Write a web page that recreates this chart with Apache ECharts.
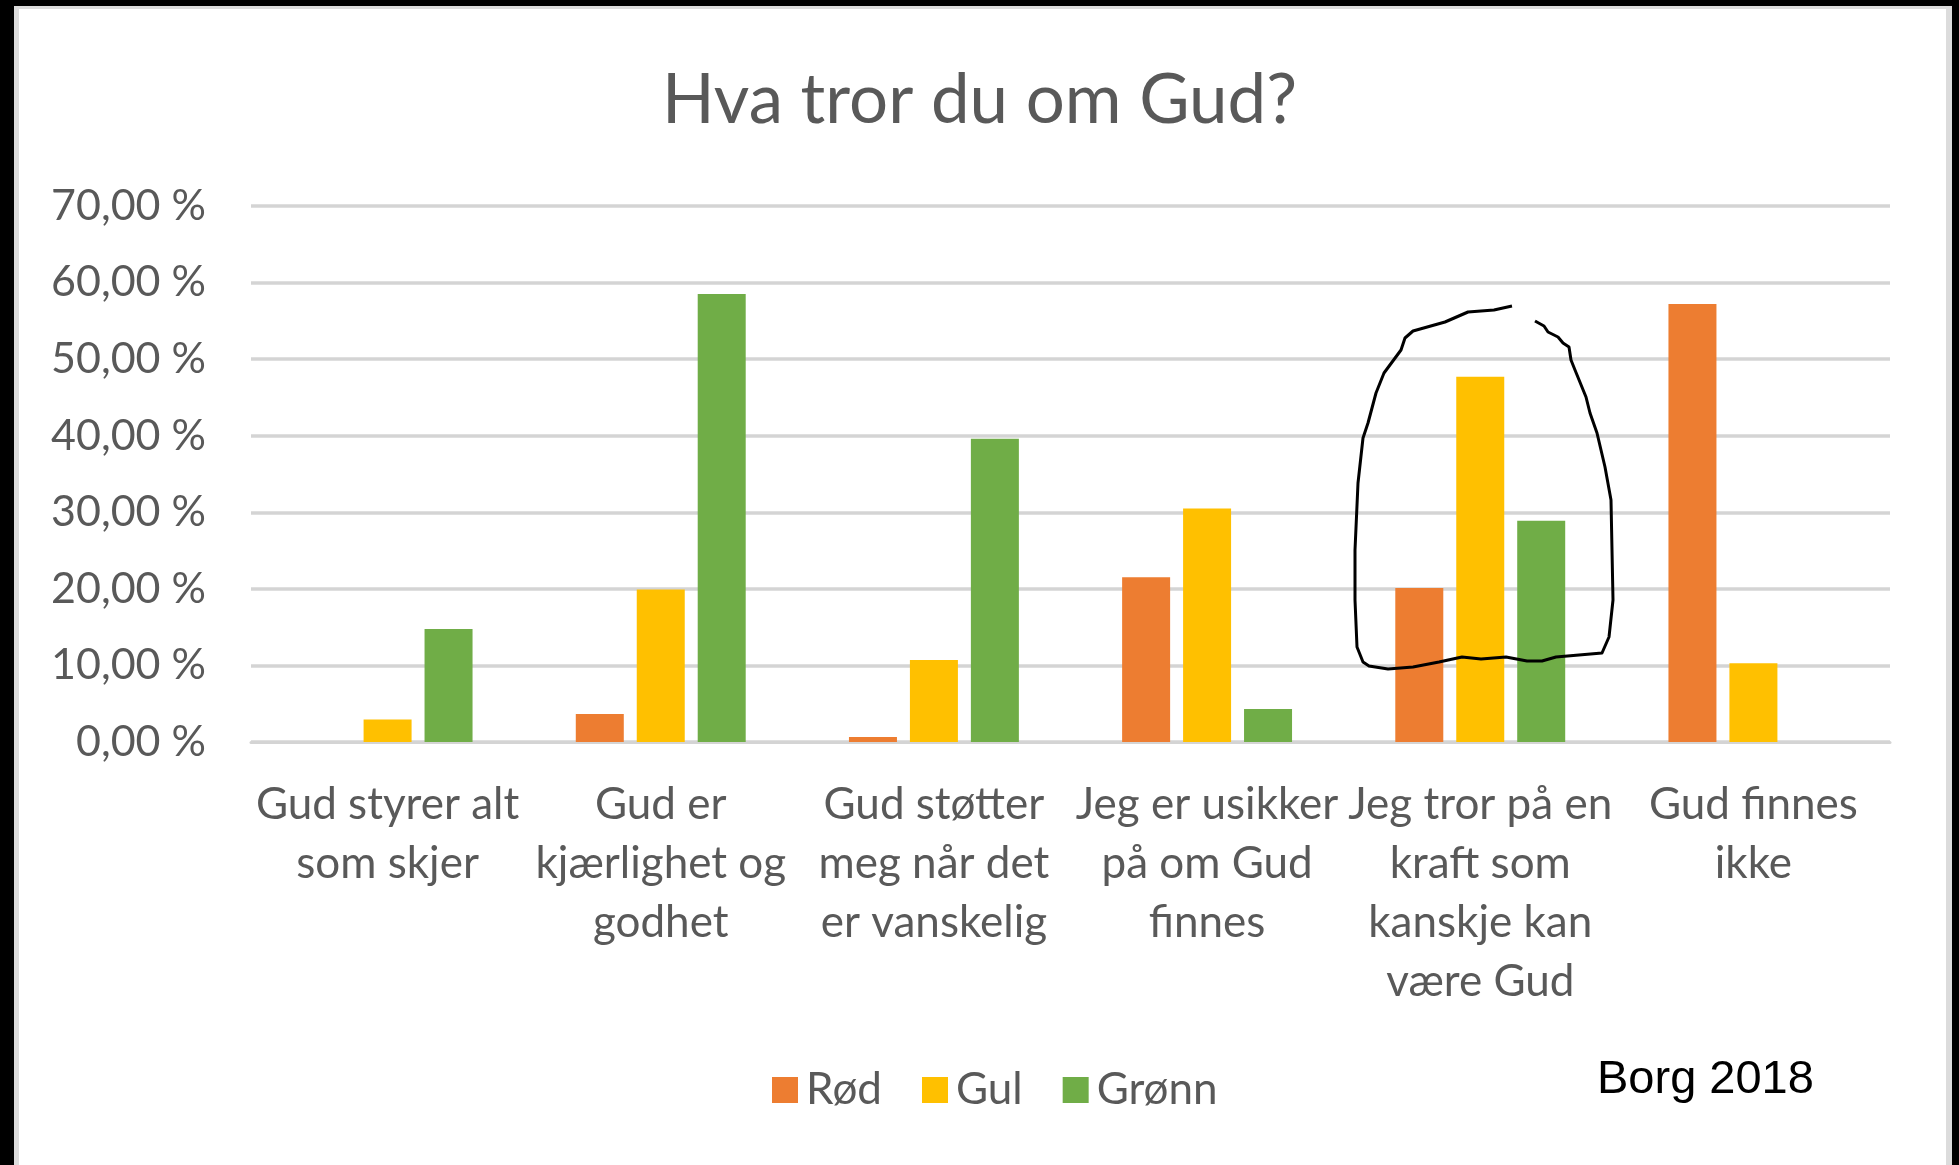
<!DOCTYPE html>
<html>
<head>
<meta charset="utf-8">
<script src="https://cdn.jsdelivr.net/npm/echarts@6/dist/echarts.min.js"></script>
<style>
  html, body { margin: 0; padding: 0; background: #fff; }
  #main { width: 1959px; height: 1165px; }
</style>
</head>
<body>
<div id="main"></div>
<script>
// data (percent)
var categories = [
  'Gud styrer alt\nsom skjer',
  'Gud er\nkjærlighet og\ngodhet',
  'Gud støtter\nmeg når det\ner vanskelig',
  'Jeg er usikker\npå om Gud\nfinnes',
  'Jeg tror på en\nkraft som\nkanskje kan\nvære Gud',
  'Gud finnes\nikke'
];
var seriesNames = ['Rød', 'Gul', 'Grønn'];
var rod   = [0, 3.65, 0.65, 21.5, 20.1, 57.2];
var gul   = [2.95, 19.9, 10.7, 30.5, 47.7, 10.3];
var gronn = [14.75, 58.5, 39.6, 4.3, 28.9, 0];
var colors = ['#ED7D31', '#FFC000', '#70AD47'];

var font = 'Lato';
var textGray = '#595959';

// hand drawn loop around "Jeg tror på en..." (pixel annotation)
var loop = [
  [1512,306],[1494,310],[1468,312],[1445,322],[1413,331],[1405,338],[1401,350],
  [1384,373],[1376,393],[1368,423],[1363,438],[1358,483],[1355,550],[1355,600],
  [1357,647],[1363,662],[1369,666],[1388,669],[1413,667],[1439,662],[1462,657],
  [1481,659],[1506,657],[1527,661],[1542,661],[1556,657],[1602,653],[1609,637],
  [1613,600],[1611,500],[1605,467],[1597,433],[1590,413],[1586,397],[1575,370],
  [1571,360],[1569,347],[1563,343],[1558,337],[1548,332],[1544,326],[1535,321]
];

var myChart = echarts.init(document.getElementById('main'));

myChart.setOption({
  backgroundColor: '#fff',
  animation: false,
  title: {
    text: 'Hva tror du om Gud?',
    left: 'center',
    top: 61,
    textStyle: { fontFamily: font, fontSize: 69, fontWeight: 'normal', color: textGray }
  },
  legend: {
    data: seriesNames,
    left: 767,
    top: 1063,
    itemWidth: 26,
    itemHeight: 26,
    itemGap: 40,
    icon: 'rect',
    textStyle: { fontFamily: font, fontSize: 44, color: textGray, padding: [0, 0, 0, 3] }
  },
  grid: { left: 251, right: 69, top: 206, bottom: 423, containLabel: false },
  xAxis: {
    type: 'category',
    data: categories,
    axisLine: { show: true, lineStyle: { color: '#D4D4D4', width: 3 } },
    axisTick: { show: false },
    axisLabel: {
      interval: 0,
      hideOverlap: false,
      margin: 33,
      fontFamily: font,
      fontSize: 44,
      lineHeight: 59,
      color: textGray
    }
  },
  yAxis: {
    type: 'value',
    min: 0,
    max: 70,
    interval: 10,
    axisLine: { show: false },
    axisTick: { show: false },
    splitLine: { lineStyle: { color: '#D4D4D4', width: 3.5 } },
    axisLabel: {
      margin: 45,
      fontFamily: font,
      fontSize: 43,
      color: textGray,
      formatter: function (v) { return v.toFixed(2).replace('.', ',') + ' %'; }
    }
  },
  series: [
    { name: seriesNames[0], type: 'bar', data: rod,   barWidth: 48, barGap: '27%', itemStyle: { color: colors[0] } },
    { name: seriesNames[1], type: 'bar', data: gul,   barWidth: 48, barGap: '27%', itemStyle: { color: colors[1] } },
    { name: seriesNames[2], type: 'bar', data: gronn, barWidth: 48, barGap: '27%', itemStyle: { color: colors[2] } }
  ],
  graphic: [
    // black frame of the screenshot
    { type: 'rect', left: 0, top: 0, shape: { width: 14, height: 1165 }, style: { fill: '#000' }, z: 100 },
    { type: 'rect', left: 0, top: 0, shape: { width: 1959, height: 6 }, style: { fill: '#000' }, z: 100 },
    { type: 'rect', left: 1952, top: 0, shape: { width: 7, height: 1165 }, style: { fill: '#000' }, z: 100 },
    { type: 'rect', left: 14, top: 6, shape: { width: 5, height: 1159 }, style: { fill: '#DCDCDC' }, z: 99 },
    { type: 'rect', left: 14, top: 6, shape: { width: 1938, height: 3 }, style: { fill: '#DCDCDC' }, z: 99 },
    { type: 'rect', left: 1946, top: 6, shape: { width: 6, height: 1159 }, style: { fill: '#DCDCDC' }, z: 99 },
    {
      type: 'text',
      x: 1597,
      y: 1080,
      style: { text: 'Borg 2018', font: '47px "Liberation Sans"', fill: '#000', verticalAlign: 'middle' },
      z: 100
    },
    {
      type: 'polyline',
      shape: { points: loop },
      style: { stroke: '#000', lineWidth: 3, fill: null, lineJoin: 'round' },
      z: 100
    }
  ]
});
</script>
</body>
</html>
